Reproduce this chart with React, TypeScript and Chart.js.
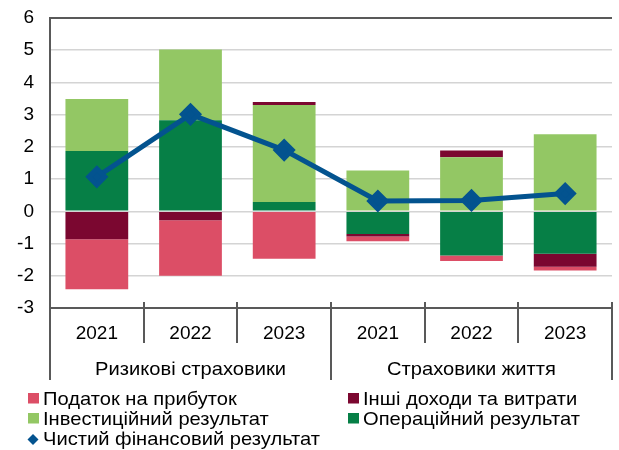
import React, { useEffect, useRef } from 'react';
import { Chart, registerables } from 'chart.js';

Chart.register(...registerables);

const years = ['2021', '2022', '2023', '2021', '2022', '2023'];
const groups = ['Ризикові страховики', 'Страховики життя'];
const operational = [1.87, 2.83, 0.29, -0.7, -1.37, -1.32];
const investment = [1.62, 2.19, 3.01, 1.27, 1.68, 2.39];
const other = [-0.87, -0.28, 0.09, -0.08, 0.21, -0.4];
const tax = [-1.55, -1.72, -1.47, -0.15, -0.17, -0.12];
const net = [1.07, 3.01, 1.9, 0.32, 0.34, 0.55];

const names = {
  tax: 'Податок на прибуток',
  other: 'Інші доходи та витрати',
  investment: 'Інвестиційний результат',
  operational: 'Операційний результат',
  net: 'Чистий фінансовий результат',
};

const colors = {
  tax: '#DC4E66',
  other: '#7B0730',
  investment: '#93C764',
  operational: '#067F46',
  net: '#03538F',
};

const AXIS = '#595959';
const FONT = '"Liberation Sans", Arial, sans-serif';

function stretchText(ctx: any, text: string, x: number, y: number, sx: number, align: string) {
  ctx.save();
  ctx.translate(x, y);
  ctx.scale(sx, 1);
  ctx.textAlign = align;
  ctx.fillText(text, 0, 0);
  ctx.restore();
}

const extrasPlugin = {
  id: 'extras',
  afterDraw(chart: any) {
    const ctx = chart.ctx;
    const area = chart.chartArea;
    const n = years.length;
    const w = (area.right - area.left) / n;
    const bottom = area.bottom;
    ctx.save();
    ctx.strokeStyle = AXIS;
    ctx.lineWidth = 2;
    for (let i = 0; i <= n; i++) {
      const x = Math.round(area.left + i * w);
      const major = i % 3 === 0;
      ctx.beginPath();
      ctx.moveTo(x, bottom - 6);
      ctx.lineTo(x, major ? 380 : 343);
      ctx.stroke();
    }
    ctx.fillStyle = '#000';
    ctx.textBaseline = 'alphabetic';
    ctx.font = `19px ${FONT}`;
    for (let i = 0; i < n; i++) {
      const x = chart.scales.x.getPixelForValue(i);
      stretchText(ctx, years[i], x, 339, 1, 'center');
    }
    for (let g = 0; g < groups.length; g++) {
      const x = area.left + (g * 3 + 1.5) * w;
      stretchText(ctx, groups[g], x, 375, 1.06, 'center');
    }
    ctx.font = `19px ${FONT}`;
    const items: [string, number, number, string][] = [
      ['tax', 28, 405, 'rect'],
      ['other', 348, 405, 'rect'],
      ['investment', 28, 425, 'rect'],
      ['operational', 348, 425, 'rect'],
      ['net', 28, 445, 'diamond'],
    ];
    for (const [key, x, y, shape] of items) {
      ctx.fillStyle = (colors as any)[key];
      if (shape === 'rect') {
        ctx.fillRect(x, y - 12, 11, 10.5);
      } else {
        const cx = x + 5, cy = y - 5.5, r = 5.5;
        ctx.beginPath();
        ctx.moveTo(cx, cy - r);
        ctx.lineTo(cx + r, cy);
        ctx.lineTo(cx, cy + r);
        ctx.lineTo(cx - r, cy);
        ctx.closePath();
        ctx.fill();
      }
      ctx.fillStyle = '#000';
      stretchText(ctx, (names as any)[key], x + 15, y, 1.06, 'left');
    }
    ctx.restore();
  },
};

export default function App() {
  const ref = useRef<HTMLCanvasElement | null>(null);
  useEffect(() => {
    if (!ref.current) return;
    const chart = new Chart(ref.current, {
      type: 'bar',
      data: {
        labels: years.map((y, i) => `${y}-${i}`),
        datasets: [
          { type: 'line', label: names.net, data: net, borderColor: colors.net, backgroundColor: colors.net, borderWidth: 5, pointStyle: 'rectRot', pointRadius: 8, pointHoverRadius: 8, stack: 'net', order: 0 } as any,
          { label: names.operational, data: operational, backgroundColor: colors.operational, stack: 'bars', order: 1 },
          { label: names.investment, data: investment, backgroundColor: colors.investment, stack: 'bars', order: 1 },
          { label: names.other, data: other, backgroundColor: colors.other, stack: 'bars', order: 1 },
          { label: names.tax, data: tax, backgroundColor: colors.tax, stack: 'bars', order: 1 },
        ],
      },
      options: {
        responsive: false,
        animation: false,
        events: [],
        layout: { padding: { left: 0, top: 18, right: 0, bottom: 142 } },
        datasets: { bar: { categoryPercentage: 1, barPercentage: 0.67, borderWidth: 0 } },
        plugins: { legend: { display: false }, tooltip: { enabled: false } },
        scales: {
          x: { display: false, stacked: true, offset: true },
          y: {
            stacked: true,
            min: -3,
            max: 6,
            afterFit: (s: any) => { s.width = 50; s.paddingTop = 0; s.paddingBottom = 0; },
            border: { display: true, color: AXIS, width: 2 },
            grid: {
              drawTicks: false,
              color: (c: any) => (c.tick && (c.tick.value === 6 || c.tick.value === -3) ? AXIS : '#D4D4D4'),
              lineWidth: (c: any) => (c.tick && (c.tick.value === 6 || c.tick.value === -3) ? 2 : 1.5),
            },
            ticks: { stepSize: 1, padding: 16, color: '#000', font: { family: FONT, size: 19 } },
          },
        },
      },
      plugins: [extrasPlugin],
    });
    return () => chart.destroy();
  }, []);
  return (
    <div style={{ position: 'absolute', left: 0, top: 0, width: 619, height: 450, overflow: 'hidden', background: '#fff' }}>
      <canvas ref={ref} width={625} height={450} style={{ display: 'block' }} />
    </div>
  );
}
